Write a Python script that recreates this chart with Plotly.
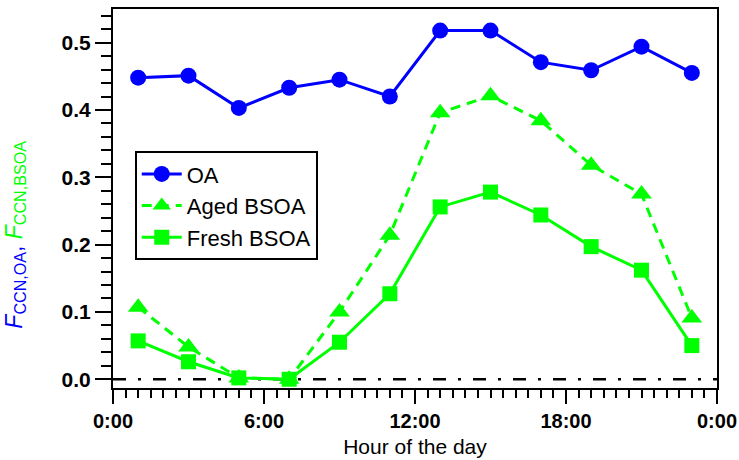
import plotly.graph_objects as go

hours = [1, 3, 5, 7, 9, 11, 13, 15, 17, 19, 21, 23]
oa = [0.448, 0.451, 0.403, 0.433, 0.445, 0.420, 0.518, 0.518, 0.471, 0.459, 0.494, 0.455]
aged_bsoa = [0.107, 0.048, 0.002, 0.000, 0.100, 0.214, 0.396, 0.421, 0.384, 0.318, 0.275, 0.091]
fresh_bsoa = [0.057, 0.026, 0.002, 0.000, 0.055, 0.127, 0.256, 0.278, 0.244, 0.197, 0.162, 0.050]

x_tickvals = [0, 6, 12, 18, 24]
x_ticktext = ["0:00", "6:00", "12:00", "18:00", "0:00"]
y_tickvals = [0.0, 0.1, 0.2, 0.3, 0.4, 0.5]
y_ticktext = ["0.0", "0.1", "0.2", "0.3", "0.4", "0.5"]

BLUE = "#0000FF"
GREEN = "#00FF00"
FONT = "Liberation Sans, Arial, sans-serif"

fig = go.Figure()
fig.add_trace(go.Scatter(x=hours, y=oa, name="OA", mode="lines+markers",
                         line=dict(color=BLUE, width=3),
                         marker=dict(symbol="circle", size=16, color=BLUE)))
fig.add_trace(go.Scatter(x=hours, y=aged_bsoa, name="Aged BSOA", mode="lines+markers",
                         line=dict(color=GREEN, width=3, dash="10px,7px"),
                         marker=dict(symbol="triangle-up", size=18, color=GREEN)))
fig.add_trace(go.Scatter(x=hours, y=fresh_bsoa, name="Fresh BSOA", mode="lines+markers",
                         line=dict(color=GREEN, width=3),
                         marker=dict(symbol="square", size=15, color=GREEN)))

fig.add_shape(type="line", xref="x", yref="y", x0=0, x1=24, y0=0, y1=0,
              line=dict(color="black", width=2.5, dash="13px,12px,3px,12px"), layer="below")

fig.add_annotation(
    text=(f'<span style="color:{BLUE}"><i>F</i><sub>CCN,OA</sub>, </span>'
          f'<span style="color:{GREEN}"><i>F</i><sub>CCN,BSOA</sub></span>'),
    xref="paper", yref="paper", x=-0.162, y=0.405, xanchor="center", yanchor="middle",
    textangle=-90, showarrow=False, font=dict(family=FONT, size=23))

fig.update_layout(
    width=739, height=460,
    margin=dict(l=113, r=22, t=9, b=72),
    paper_bgcolor="white", plot_bgcolor="white",
    font=dict(family=FONT, color="black"),
    legend=dict(x=0.036, y=0.625, xanchor="left", yanchor="top",
                bordercolor="black", borderwidth=2, bgcolor="white",
                font=dict(family=FONT, size=22, color="black"),
                itemwidth=40, tracegroupgap=0),
    showlegend=True,
)
fig.update_xaxes(
    range=[0, 24], tickvals=x_tickvals, ticktext=x_ticktext,
    showgrid=False, zeroline=False,
    showline=True, linecolor="black", linewidth=2, mirror=True,
    ticks="outside", ticklen=14, tickwidth=2, tickcolor="black",
    minor=dict(dtick=0.5, tick0=0, ticks="outside", ticklen=8, tickwidth=2, tickcolor="black", showgrid=False),
    tickfont=dict(family=FONT, size=20, color="black", weight="bold"),
    title=dict(text="Hour of the day", font=dict(family=FONT, size=21, color="black"), standoff=8),
    automargin=False,
)
fig.update_yaxes(
    range=[-0.013, 0.55], tickvals=y_tickvals, ticktext=y_ticktext,
    showgrid=False, zeroline=False,
    showline=True, linecolor="black", linewidth=2, mirror=True,
    ticks="outside", ticklen=16, tickwidth=2, tickcolor="black",
    minor=dict(dtick=0.02, tick0=0, ticks="outside", ticklen=10, tickwidth=2, tickcolor="black", showgrid=False),
    tickfont=dict(family=FONT, size=21, color="black", weight="bold"),
    automargin=False,
)

fig.write_html("out.html", config={"displayModeBar": False},
               post_script="document.body.style.margin='0px';document.body.style.overflow='hidden';")
